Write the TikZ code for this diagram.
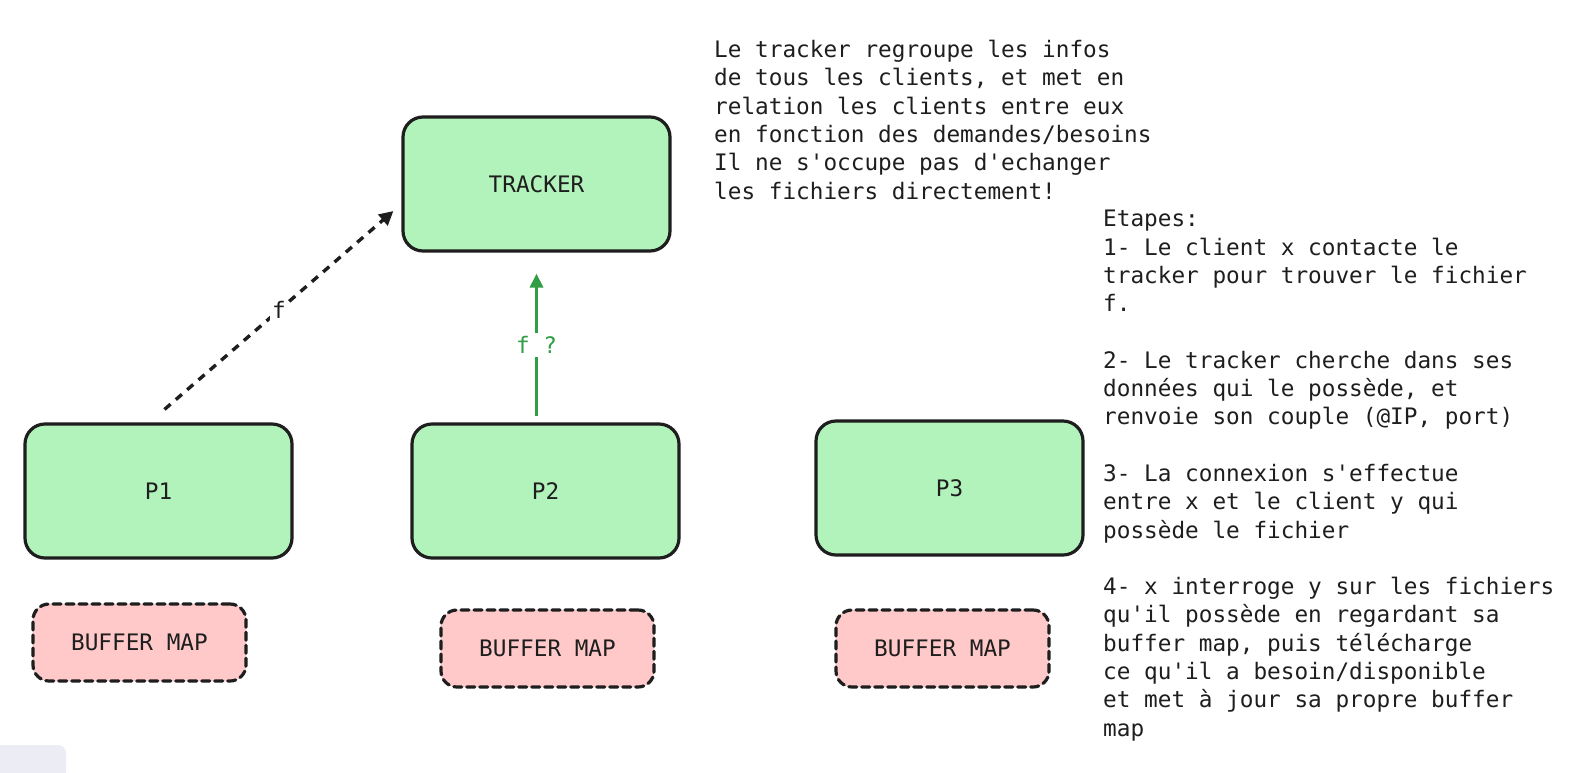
\documentclass[tikz,border=0pt]{standalone}
\usepackage{fontspec}
\setmonofont{DejaVu Sans Mono}
\usetikzlibrary{arrows.meta,calc}
\definecolor{strokec}{HTML}{1E1E1E}
\definecolor{greenfill}{HTML}{B2F2BB}
\definecolor{redfill}{HTML}{FFC9C9}
\definecolor{greenline}{HTML}{2F9E44}
\definecolor{uigray}{HTML}{ECECF4}
\begin{document}
\begin{tikzpicture}[x=1pt,y=-1pt,
  every node/.style={font=\ttfamily\fontsize{22.7}{28.3}\selectfont, text=strokec},
  greenbox/.style={draw=strokec, line width=3.2pt, fill=greenfill, rounded corners=20pt,
    minimum width=267pt, minimum height=134pt, inner sep=0pt},
  bufbox/.style={draw=strokec, line width=3.2pt, fill=redfill, rounded corners=16pt,
    dash pattern=on 8pt off 5pt, line cap=round,
    minimum width=213pt, minimum height=77pt, inner sep=0pt},
  note/.style={align=left, anchor=north west, inner sep=0pt},
  dasharrow/.style={draw=strokec, line width=3.4pt, dash pattern=on 8pt off 7pt,
    -{Triangle[length=14pt,width=14pt]}},
  greenarrow/.style={draw=greenline, line width=3.2pt,
    -{Triangle[length=14pt,width=13pt]}},
]
\useasboundingbox[fill=white] (0,0) rectangle (1592,772);
\begin{scope}
\clip (0,0) rectangle (1592,772);
\fill[uigray, rounded corners=8pt] (-20,745) rectangle (66,790);
\end{scope}

\node[greenbox] (T) at (536.5,184) {TRACKER};
\node[greenbox] (P1) at (158.5,491) {P1};
\node[greenbox] (P2) at (545.5,491) {P2};
\node[greenbox] (P3) at (949.5,488) {P3};

\node[bufbox] (B1) at (139.5,642.5) {BUFFER MAP};
\node[bufbox] (B2) at (547.5,648.5) {BUFFER MAP};
\node[bufbox] (B3) at (942.5,648.5) {BUFFER MAP};

\draw[dasharrow] ($(P1.north)+(6,-13)$) -- node[midway, fill=white, inner sep=2pt] (lf) {f} ($(T.west)+(-8,27)$);
\draw[greenarrow] ($(P2.north -| T.south)+(0,-6)$) -- node[midway, fill=white, inner sep=3pt, text=greenline] (lfq) {f ?} ($(T.south)+(0,21)$);

\node[note] (desc) at (714,40) {Le tracker regroupe les infos\\
de tous les clients, et met en\\
relation les clients entre eux\\
en fonction des demandes/besoins\\
Il ne s'occupe pas d'echanger\\
les fichiers directement!};

\node[note] (steps) at (1103,210) {Etapes:\\
1- Le client x contacte le\\
tracker pour trouver le fichier\\
f.\\[28.3pt]
2- Le tracker cherche dans ses\\
données qui le possède, et\\
renvoie son couple (@IP, port)\\[28.3pt]
3- La connexion s'effectue\\
entre x et le client y qui\\
possède le fichier\\[28.3pt]
4- x interroge y sur les fichiers\\
qu'il possède en regardant sa\\
buffer map, puis télécharge\\
ce qu'il a besoin/disponible\\
et met à jour sa propre buffer\\
map};
\end{tikzpicture}
\end{document}
